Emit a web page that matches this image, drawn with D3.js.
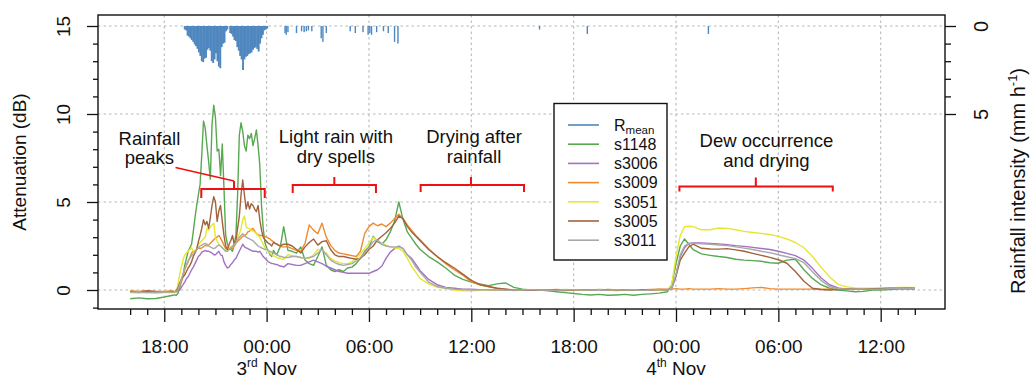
<!DOCTYPE html>
<html>
<head>
<meta charset="utf-8">
<script src="https://cdn.jsdelivr.net/npm/d3@7"></script>
<style>
  html, body { margin: 0; padding: 0; background: #fff; }
  svg { display: block; font-family: "Liberation Sans", Arial, Helvetica, sans-serif; }
</style>
</head>
<body>
<svg id="chart" width="1031" height="378"></svg>
<script>
// Time stamps in hours relative to 00:00 on 3 Nov
const hours = [
  -8, -7.5, -7, -6.5, -6, -5.5,
  -5.4, -5.3, -5.2, -5.1, -5.0, -4.9, -4.8, -4.7, -4.6, -4.5, -4.4, -4.3, -4.2, -4.1, -4.0,
  -3.9, -3.8, -3.7, -3.6, -3.5, -3.4, -3.3, -3.2, -3.1, -3.0, -2.9, -2.8, -2.7, -2.6, -2.5,
  -2.4, -2.3, -2.2, -2.1, -2.0, -1.9, -1.8, -1.7, -1.6, -1.5, -1.4, -1.3, -1.2, -1.1, -1.0,
  -0.9, -0.8, -0.7, -0.6, -0.5, -0.4, -0.3, -0.2, -0.1, 0.0, 0.1, 0.2, 0.3, 0.4, 0.5,
  0.6, 0.7, 0.8, 0.9, 1.0,
  1.25, 1.5, 1.75, 2.0, 2.25, 2.5, 2.75, 3.0, 3.25, 3.5, 3.75, 4.0, 4.25, 4.5, 4.75, 5.0,
  5.25, 5.5, 5.75, 6.0, 6.25, 6.5, 6.75, 7.0, 7.25, 7.5, 7.75, 8.0, 8.25, 8.5, 8.75, 9.0,
  9.5, 10, 10.5, 11, 11.5, 12, 12.5, 13, 13.5, 14, 14.5, 15, 15.5, 16, 16.5, 17, 17.5, 18,
  18.5, 19, 19.5, 20, 20.5, 21, 21.5, 22, 22.5, 23, 23.5,
  23.75, 24, 24.25, 24.5, 24.75, 25,
  25.5, 26, 26.5, 27, 27.5, 28, 28.5, 29, 29.5, 30, 30.5, 31, 31.5, 32, 32.5, 33, 33.5,
  34, 34.5, 35, 35.5, 36, 36.5, 37, 37.5, 38
];

// Attenuation (dB) per link
const s1148 = [
  -0.5, -0.45, -0.5, -0.48, -0.4, -0.3,
  -0.28, -0.3, -0.2, 0.1, 0.5, 0.85, 1.4, 1.8, 2.2, 2.4, 2.6, 3.3, 4.1, 4.8, 5.4,
  6.0, 7.7, 9.6, 9.2, 8.2, 7.3, 6.3, 9.4, 10.5, 9.8, 7.9, 8.0, 6.5, 8.3, 5.8,
  3.1, 2.6, 2.4, 2.3, 2.2, 2.6, 3.1, 5.4, 8.8, 9.5, 9.0, 8.2, 7.9, 8.8, 8.6,
  8.9, 8.2, 8.6, 9.1, 8.2, 7.1, 4.8, 3.5, 2.7, 2.4, 2.2, 2.0, 1.9, 2.25, 2.1,
  2.0, 2.25, 2.45, 3.0, 3.6,
  2.25, 2.2, 2.1, 2.45, 1.7, 1.5, 1.4, 1.9, 2.45, 1.4, 1.15, 1.05, 1.15, 1.05, 1.25, 1.3,
  1.5, 1.8, 2.2, 2.45, 3.05, 2.75, 2.6, 2.85, 3.3, 3.9, 5.0, 4.0, 3.3, 2.95, 2.6, 2.3,
  1.9, 1.6, 1.25, 0.85, 0.6, 0.45, 0.35, 0.25, 0.35, 0.4, 0.15, 0.05, 0.0, 0.0, -0.05, -0.1, -0.15, -0.2,
  -0.25, -0.28, -0.25, -0.3, -0.28, -0.25, -0.3, -0.25, -0.22, -0.18, -0.1,
  0.3, 1.5, 2.5, 2.9, 2.6, 2.3,
  2.05, 1.97, 1.9, 1.85, 1.75, 1.7, 1.67, 1.63, 1.55, 1.52, 1.7, 1.75, 1.15, 0.66, 0.3, 0.1, 0.0,
  -0.05, -0.1, -0.08, 0.0, 0.0, 0.02, 0.05, 0.05, 0.05
];
const s3006 = [
  -0.1, -0.12, -0.08, -0.1, -0.12, -0.1,
  -0.1, -0.1, -0.05, 0.0, 0.15, 0.3, 0.45, 0.65, 0.75, 0.95, 1.15, 1.3, 1.5, 1.7, 1.9,
  2.0, 2.15, 2.2, 2.25, 2.2, 2.2, 2.15, 2.1, 2.0, 2.0, 2.1, 2.2, 2.0, 1.95, 1.6,
  1.4, 1.25, 1.3, 1.45, 1.55, 1.7, 1.8, 2.0, 2.2, 2.4, 2.6, 2.45, 2.4, 2.35, 2.3,
  2.25, 2.2, 2.2, 2.2, 2.15, 2.2, 2.05, 1.9, 1.8, 1.7, 1.6, 1.55, 1.5, 1.5, 1.45,
  1.45, 1.4, 1.35, 1.35, 1.3,
  1.5, 1.45, 1.4, 1.4, 1.5, 1.6, 1.7, 1.6, 1.5, 1.35, 1.25, 1.15, 1.05, 1.0, 0.95, 0.95,
  0.95, 0.95, 0.95, 0.95, 1.05, 1.15, 1.35, 1.8, 2.15, 2.35, 2.5, 2.35, 2.0, 1.8, 1.45, 1.1,
  0.6, 0.3, 0.15, 0.1, 0.05, 0.05, 0.02, 0.0, 0.0, -0.02, 0.0, 0.02, 0.0, -0.02, 0.0, 0.0, 0.02, 0.0,
  -0.02, 0.0, 0.0, 0.02, 0.0, -0.02, 0.0, 0.0, 0.02, 0.0, 0.0,
  0.1, 0.8, 1.9, 2.4, 2.65, 2.68,
  2.68, 2.65, 2.62, 2.58, 2.52, 2.48, 2.42, 2.36, 2.3, 2.2, 2.08, 1.95, 1.7, 1.23, 0.7, 0.3, 0.12,
  0.05, 0.05, 0.05, 0.05, 0.08, 0.08, 0.1, 0.1, 0.1
];
const s3009 = [
  -0.05, -0.08, -0.05, -0.1, -0.08, -0.05,
  -0.1, -0.05, 0.05, 0.25, 0.45, 0.75, 1.15, 1.4, 1.6, 1.85, 2.1, 2.2, 2.2, 2.3, 2.4,
  2.35, 2.4, 2.45, 2.55, 2.5, 2.55, 2.65, 2.75, 2.85, 2.95, 3.0, 3.1, 2.95, 2.75, 2.55,
  2.35, 2.3, 2.3, 2.35, 2.35, 2.5, 2.65, 2.75, 2.85, 2.95, 3.05, 3.1, 3.15, 3.3, 3.35,
  3.45, 3.5, 3.35, 3.2, 3.15, 3.1, 3.1, 3.1, 3.05, 3.0, 2.95, 2.9, 2.8, 2.75, 2.65,
  2.6, 2.55, 2.5, 2.45, 2.45,
  2.45, 2.35, 2.25, 2.2, 2.65, 3.7, 3.4, 3.2, 3.8, 3.0, 2.55, 2.25, 2.1, 2.05, 2.0, 1.95,
  1.9, 2.2, 3.2, 3.6, 3.8, 3.65, 3.75, 3.6, 3.8, 4.05, 4.3, 4.05, 3.7, 3.4, 3.1, 2.85,
  2.35, 1.9, 1.5, 1.15, 0.85, 0.45, 0.3, 0.2, 0.1, 0.05, 0.0, 0.02, -0.02, -0.02, 0.0, 0.03, 0.0, -0.02,
  0.02, 0.0, 0.03, 0.0, -0.03, 0.0, 0.02, 0.0, 0.03, 0.05, 0.05,
  0.05, 0.08, 0.05, 0.05, 0.08, 0.05,
  0.05, 0.05, 0.08, 0.05, 0.05, 0.08, 0.12, 0.15, 0.08, 0.05, 0.05, 0.05, 0.05, 0.05, 0.05, 0.05, 0.05,
  0.08, 0.05, 0.05, 0.08, 0.1, 0.1, 0.12, 0.12, 0.1
];
const s3051 = [
  -0.15, -0.18, -0.15, -0.2, -0.15, -0.15,
  -0.15, -0.1, 0.3, 0.85, 1.3, 1.7, 2.0, 2.1, 2.2, 2.3, 2.4, 2.2, 2.2, 2.4, 2.6,
  2.7, 2.8, 2.9, 3.0, 3.5, 3.4, 3.6, 3.7, 3.8, 3.0, 2.8, 2.6, 2.5, 2.4, 2.3,
  2.2, 2.3, 2.4, 2.45, 2.5, 2.6, 2.8, 3.0, 3.2, 3.5, 4.0, 4.2, 3.6, 3.5, 3.5,
  3.4, 3.35, 3.3, 3.2, 3.1, 3.0, 2.8, 2.6, 2.4, 2.3, 2.2, 2.1, 2.0, 1.95, 1.9,
  1.85, 1.8, 1.8, 1.75, 1.75,
  2.0, 1.95, 1.9, 1.85, 1.8, 1.8, 2.0, 2.3, 2.25, 2.1, 1.8, 1.65, 1.55, 1.5, 1.5, 1.6,
  1.8, 2.05, 2.35, 2.65, 3.0, 2.8, 2.65, 2.55, 2.45, 2.4, 2.35, 2.2, 1.8, 1.35, 1.0, 0.65,
  0.35, 0.15, 0.1, 0.0, -0.05, -0.05, -0.02, 0.0, 0.02, 0.0, -0.03, 0.0, 0.02, 0.0, -0.02, 0.0, 0.03, 0.0,
  -0.02, 0.0, 0.02, 0.0, -0.02, 0.0, 0.0, 0.02, 0.0, 0.0, 0.03,
  0.3, 1.9, 3.1, 3.6, 3.62, 3.6,
  3.42, 3.42, 3.52, 3.5, 3.42, 3.33, 3.27, 3.22, 3.15, 3.05, 2.9, 2.7, 2.4, 1.9, 1.3, 0.75, 0.32,
  0.18, 0.12, 0.1, 0.1, 0.1, 0.12, 0.15, 0.15, 0.15
];
const s3005 = [
  -0.08, -0.1, -0.05, -0.08, -0.1, -0.08,
  -0.1, -0.05, 0.1, 0.4, 0.6, 0.75, 0.85, 1.05, 1.25, 1.4, 1.6, 1.9, 2.1, 2.3, 2.75,
  3.1, 3.5, 4.0, 3.7, 3.9, 3.5, 4.1, 4.8, 5.3, 5.0, 3.9, 4.5, 4.8, 3.9, 3.1,
  2.5, 2.3, 2.6, 2.8, 3.1, 2.6, 2.8, 3.5, 4.2, 5.4, 6.25, 5.4, 4.6, 5.0, 4.6,
  4.9, 4.8, 4.6, 4.45, 4.8, 4.0, 3.4, 3.0, 2.85, 2.75, 2.65, 2.6, 2.5, 2.7, 2.65,
  2.6, 2.55, 2.5, 2.55, 2.6,
  2.6, 2.5, 2.3, 2.1, 2.45, 2.7, 2.9, 2.55, 2.75, 2.8, 2.3, 2.0, 1.9, 1.9, 1.85, 1.8,
  1.75, 1.8, 2.0, 2.3, 2.5, 2.85, 3.05, 3.25, 3.5, 3.8, 4.2, 4.05, 3.6, 3.3, 3.05, 2.8,
  2.3, 1.9, 1.55, 1.25, 0.9, 0.55, 0.3, 0.2, 0.1, 0.05, 0.0, 0.0, -0.02, 0.0, 0.02, 0.0, -0.03, 0.0,
  0.02, 0.0, -0.02, 0.03, 0.0, 0.0, -0.02, 0.02, 0.0, 0.03, 0.02,
  0.1, 0.8, 1.7, 2.1, 2.45, 2.6,
  2.37, 2.33, 2.32, 2.35, 2.28, 2.2, 2.08, 1.97, 1.85, 1.72, 1.52, 1.05, 0.5, 0.1, 0.03, 0.0, 0.02,
  0.05, 0.05, 0.05, 0.08, 0.08, 0.1, 0.1, 0.12, 0.1
];
const s3011 = [
  -0.12, -0.1, -0.15, -0.12, -0.1, -0.12,
  -0.1, -0.1, 0.0, 0.3, 0.6, 0.9, 1.2, 1.45, 1.65, 1.8, 1.95, 2.05, 2.2, 2.3, 2.4,
  2.5, 2.55, 2.6, 2.65, 2.6, 2.5, 2.45, 2.4, 2.35, 2.4, 2.5, 2.55, 2.5, 2.4, 2.3,
  2.2, 2.2, 2.3, 2.4, 2.5, 2.6, 2.7, 2.85, 3.0, 3.1, 3.2, 3.1, 3.0, 2.95, 2.9,
  2.85, 2.8, 2.7, 2.6, 2.5, 2.45, 2.4, 2.35, 2.3, 2.3, 2.25, 2.2, 2.15, 2.1, 2.05,
  2.0, 1.95, 1.9, 1.9, 1.85,
  1.85, 1.9, 1.9, 1.85, 1.8, 1.85, 1.9, 2.1, 2.3, 2.0, 1.7, 1.55, 1.45, 1.4, 1.45, 1.5,
  1.65, 1.85, 2.1, 2.4, 2.75, 2.85, 2.6, 2.5, 2.45, 2.45, 2.45, 2.35, 2.0, 1.7, 1.3, 1.0,
  0.45, 0.2, 0.1, 0.05, 0.02, 0.0, 0.0, 0.02, 0.0, -0.02, 0.0, 0.0, 0.02, 0.0, 0.0, -0.02, 0.0, 0.02,
  0.0, 0.0, -0.02, 0.0, 0.02, 0.0, 0.0, -0.02, 0.0, 0.02, 0.0,
  0.1, 0.9, 2.0, 2.5, 2.65, 2.65,
  2.62, 2.6, 2.56, 2.52, 2.45, 2.38, 2.3, 2.2, 2.12, 2.0, 1.89, 1.78, 1.55, 1.04, 0.55, 0.2, 0.07,
  0.05, 0.05, 0.05, 0.05, 0.05, 0.08, 0.1, 0.1, 0.1
];

const seriesNames = ["s1148", "s3006", "s3009", "s3051", "s3005", "s3011"];
const seriesValues = [s1148, s3006, s3009, s3051, s3005, s3011];
const seriesColors = ["#58a852", "#a173c2", "#f08b2d", "#e6e634", "#a2623c", "#a9a9a9"];
const rainColor = "#4f87bf";

// Mean rainfall intensity (mm/h): 5-minute series from 19:12 on 2 Nov, then isolated showers
const rainDenseStart = -4.8;
const rainDenseStepMinutes = 5;
const rainDense = [
  0.2, 0.25, 0.55, 0.6, 0.7, 0.8, 0.9, 1.05, 1.15, 1.3,
  1.5, 1.7, 2.0, 2.05, 1.85, 1.8, 1.35, 1.25, 1.4, 2.0,
  2.1, 1.9, 1.55, 2.0, 2.3, 2.4, 1.2, 1.0, 0.95, 0.3,
  0.2, 0.0, 0.4, 0.45, 0.6, 0.8, 0.85, 1.2, 1.4, 1.7,
  1.9, 2.5, 1.9, 1.75, 1.7, 1.6, 1.55, 1.5, 1.35, 1.25,
  1.2, 1.3, 1.45, 1.0, 0.7, 0.5, 0.25, 0.2, 0.15
];
const rainSparseHours = [1.08, 1.15, 1.25, 1.75, 2.05, 2.2, 2.33, 2.45, 2.65, 3.2, 3.3, 3.5,
  4.9, 5.2, 5.65, 5.95, 6.05, 6.15, 6.45, 6.85, 7.13, 7.5, 7.7, 16.0, 18.8, 25.9];
const rainSparseValues = [0.4, 0.5, 0.35, 0.4, 0.3, 0.35, 0.3, 0.25, 0.3, 0.7, 0.9, 0.4,
  0.3, 0.4, 0.35, 0.5, 0.4, 0.5, 0.35, 0.3, 0.4, 0.9, 1.0, 0.2, 0.45, 0.45];

// Axis ticks
const majorHours = [-6, 0, 6, 12, 18, 24, 30, 36];
const timeTickLabels = ["18:00", "00:00", "06:00", "12:00", "18:00", "00:00", "06:00", "12:00"];
const minorHours = d3.range(-8, 39).filter(h => !majorHours.includes(h));
const dayLabels = [{ h: 0, num: "3", suf: "rd" }, { h: 24, num: "4", suf: "th" }];
const leftMajor = [0, 5, 10, 15];
const leftMinor = [-1, 1, 2, 3, 4, 6, 7, 8, 9, 11, 12, 13, 14];
const rightMajor = [0, 5];
const rightMinor = [1, 2, 3, 4];

// Text annotations: bracket spans in hours
const notes = [
  { lines: ["Rainfall", "peaks"], tx: -6.87, ty: [145, 164], from: -3.83, to: -0.11, mid: -1.91, by: 189, drop: 9, rise: 8,
    pointer: true },
  { lines: ["Light rain with", "dry spells"], tx: 4.06, ty: [143, 163], from: 1.53, to: 6.41, mid: 3.97, by: 185, drop: 8, rise: 8 },
  { lines: ["Drying after", "rainfall"], tx: 12.16, ty: [143, 163], from: 9.03, to: 15.09, mid: 11.98, by: 185, drop: 7, rise: 8 },
  { lines: ["Dew occurrence", "and drying"], tx: 29.3, ty: [147, 167], from: 24.2, to: 33.19, mid: 28.68, by: 186.5, drop: 5, rise: 9 }
];

const box = { left: 98, right: 945, top: 15, bottom: 309 };
const svg = d3.select("#chart");

const x = d3.scaleLinear().domain([-9.885, 39.77]).range([box.left, box.right]);
const yL = d3.scaleLinear().domain([0, 15]).range([290, 26]);
const yR = d3.scaleLinear().domain([0, 5]).range([26, 114]);

svg.append("defs").append("clipPath").attr("id", "plotClip")
  .append("rect").attr("x", box.left).attr("y", box.top)
  .attr("width", box.right - box.left).attr("height", box.bottom - box.top);

// Grid
const grid = svg.append("g").attr("stroke", "#b8b8b8").attr("stroke-width", 1.1).attr("stroke-dasharray", "2.5,3");
grid.selectAll("line.v").data(majorHours).join("line").attr("class", "v")
  .attr("x1", d => x(d)).attr("x2", d => x(d)).attr("y1", box.top).attr("y2", box.bottom);
grid.selectAll("line.h").data(leftMajor).join("line").attr("class", "h")
  .attr("x1", box.left).attr("x2", box.right).attr("y1", d => yL(d)).attr("y2", d => yL(d));

const plot = svg.append("g").attr("clip-path", "url(#plotClip)");

// Rainfall bars hanging from the top axis
const rainPoints = rainDense.map((v, i) => ({ h: rainDenseStart + i * rainDenseStepMinutes / 60, v, w: 1.9 }))
  .concat(rainSparseHours.map((h, i) => ({ h, v: rainSparseValues[i], w: 1.4 })));
plot.append("g").attr("fill", rainColor)
  .selectAll("rect").data(rainPoints.filter(d => d.v > 0)).join("rect")
  .attr("x", d => x(d.h) - d.w / 2).attr("width", d => d.w)
  .attr("y", yR(0)).attr("height", d => yR(d.v) - yR(0));

// Attenuation lines
const line = d3.line().x((d, i) => x(hours[i])).y(d => yL(d));
plot.selectAll("path.series").data(seriesValues).join("path").attr("class", "series")
  .attr("fill", "none").attr("stroke", (d, i) => seriesColors[i])
  .attr("stroke-width", 1.4).attr("stroke-linejoin", "round")
  .attr("d", line);

// Frame
svg.append("rect").attr("x", box.left).attr("y", box.top)
  .attr("width", box.right - box.left).attr("height", box.bottom - box.top)
  .attr("fill", "none").attr("stroke", "#111").attr("stroke-width", 1.4);

function styleAxis(g) {
  g.select(".domain").remove();
  g.selectAll(".tick line").attr("stroke", "#111").attr("stroke-width", 1.3);
  g.selectAll("text").attr("fill", "#111").attr("font-size", 19)
    .attr("font-family", "'Liberation Sans', Arial, sans-serif");
}

// Centre a multi-part text element on its own anchor point
function centre(t) {
  const len = t.node().getComputedTextLength();
  t.attr("x", +t.attr("x") - len / 2);
}

// Bottom axis
svg.append("g").attr("transform", `translate(0,${box.bottom})`)
  .call(d3.axisBottom(x).tickValues(minorHours).tickSize(6).tickFormat(""))
  .call(styleAxis);
const xMajor = svg.append("g").attr("transform", `translate(0,${box.bottom})`)
  .call(d3.axisBottom(x).tickValues(majorHours).tickSize(13).tickFormat((d, i) => timeTickLabels[i]))
  .call(styleAxis);
xMajor.selectAll(".tick text").attr("y", 44).attr("dy", null);

const days = svg.append("g").attr("font-size", 19).attr("fill", "#111");
dayLabels.forEach(d => {
  const t = days.append("text").attr("x", x(d.h)).attr("y", 375);
  t.append("tspan").text(d.num);
  t.append("tspan").attr("font-size", 12).attr("dy", -8).text(d.suf);
  t.append("tspan").attr("dy", 8).text("\u00a0Nov");
  centre(t);
});

// Left axis
svg.append("g").attr("transform", `translate(${box.left},0)`)
  .call(d3.axisLeft(yL).tickValues(leftMinor).tickSize(5).tickFormat(""))
  .call(styleAxis);
const yLeftAxis = svg.append("g").attr("transform", `translate(${box.left},0)`)
  .call(d3.axisLeft(yL).tickValues(leftMajor).tickSize(11).tickFormat(d3.format("d")))
  .call(styleAxis);
yLeftAxis.selectAll(".tick text").attr("transform", "rotate(-90)")
  .attr("x", 0).attr("y", -28).attr("dy", null).attr("text-anchor", "middle");

// Right axis
svg.append("g").attr("transform", `translate(${box.right},0)`)
  .call(d3.axisRight(yR).tickValues(rightMinor).tickSize(6).tickFormat(""))
  .call(styleAxis);
const yRightAxis = svg.append("g").attr("transform", `translate(${box.right},0)`)
  .call(d3.axisRight(yR).tickValues(rightMajor).tickSize(11).tickFormat(d3.format("d")))
  .call(styleAxis);
yRightAxis.selectAll(".tick text").attr("transform", "rotate(-90)")
  .attr("x", 0).attr("y", 43).attr("dy", null).attr("text-anchor", "middle").attr("font-size", 20);

// Axis titles
svg.append("text").attr("transform", "translate(26,162) rotate(-90)")
  .attr("text-anchor", "middle").attr("font-size", 19).attr("fill", "#111")
  .text("Attenuation (dB)");
const rt = svg.append("text").attr("transform", "translate(1025,181) rotate(-90)")
  .attr("x", 0).attr("y", 0).attr("font-size", 20).attr("fill", "#111");
rt.append("tspan").text("Rainfall intensity (mm h");
rt.append("tspan").attr("font-size", 13).attr("dy", -8).text("-1");
rt.append("tspan").attr("dy", 8).text(")");
centre(rt);

// Legend
const legend = svg.append("g");
legend.append("rect").attr("x", 554).attr("y", 103.5).attr("width", 113).attr("height", 156.5)
  .attr("fill", "#fff").attr("stroke", "#111").attr("stroke-width", 1.4);
const legendItems = [{ name: "R", sub: "mean", color: rainColor }]
  .concat(seriesNames.map((n, i) => ({ name: n, color: seriesColors[i] })));
legendItems.forEach((d, i) => {
  const yy = 125 + i * 19.2;
  legend.append("line").attr("x1", 568).attr("x2", 599).attr("y1", yy).attr("y2", yy)
    .attr("stroke", d.color).attr("stroke-width", 1.6);
  const t = legend.append("text").attr("x", 614).attr("y", yy + 5.8).attr("font-size", 16).attr("fill", "#111");
  t.append("tspan").text(d.name);
  if (d.sub) t.append("tspan").attr("font-size", 11.5).attr("dy", 3).text(d.sub);
});

// Annotations
const ann = svg.append("g");
notes.forEach(n => {
  n.lines.forEach((s, k) => {
    ann.append("text").attr("x", x(n.tx)).attr("y", n.ty[k]).attr("text-anchor", "middle")
      .attr("font-size", 18.5).attr("fill", "#111").text(s);
  });
  const x0 = x(n.from), x1 = x(n.to), xm = x(n.mid), yb = n.by;
  ann.append("path")
    .attr("d", `M${x0},${yb + n.drop}V${yb}H${x1}V${yb + n.drop}M${xm},${yb}V${yb - n.rise}`)
    .attr("fill", "none").attr("stroke", "#f01010").attr("stroke-width", 2);
  if (n.pointer) {
    ann.append("line").attr("x1", 175.5).attr("y1", 167.5).attr("x2", xm).attr("y2", yb - n.rise)
      .attr("stroke", "#f01010").attr("stroke-width", 1.6);
  }
});
</script>
</body>
</html>
